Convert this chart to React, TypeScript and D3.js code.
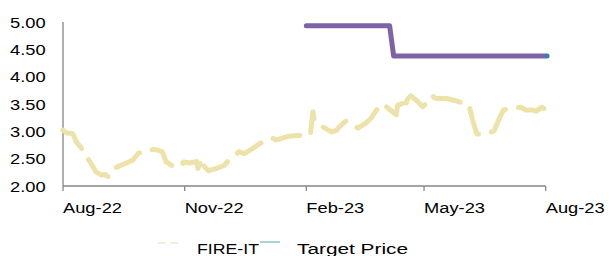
import React from "react";
import * as d3 from "d3";

const fireDates = [
  "2022-08-01","2022-08-04","2022-08-08","2022-08-09","2022-08-11","2022-08-15","2022-08-18","2022-08-22",
  "2022-08-26","2022-08-30","2022-09-02","2022-09-04","2022-09-07","2022-09-11","2022-09-18","2022-09-23",
  "2022-09-27","2022-10-01","2022-10-08","2022-10-11","2022-10-15","2022-10-18","2022-10-22",
  "2022-10-26","2022-10-30","2022-10-31","2022-11-05","2022-11-10","2022-11-11","2022-11-14",
  "2022-11-15","2022-11-19","2022-11-25","2022-12-01","2022-12-05","2022-12-09","2022-12-12",
  "2022-12-16","2022-12-22","2022-12-28","2023-01-02","2023-01-07","2023-01-09","2023-01-17",
  "2023-01-22","2023-01-31","2023-02-04","2023-02-06","2023-02-07","2023-02-10","2023-02-15",
  "2023-02-20","2023-02-24","2023-02-26","2023-03-03","2023-03-08","2023-03-12","2023-03-18",
  "2023-03-22","2023-03-26","2023-03-31","2023-04-05","2023-04-10","2023-04-11","2023-04-15",
  "2023-04-17","2023-04-18","2023-04-21","2023-04-26","2023-04-30","2023-05-04","2023-05-07",
  "2023-05-10","2023-05-18","2023-05-25","2023-05-31","2023-06-04","2023-06-07","2023-06-10",
  "2023-06-14","2023-06-18","2023-06-23","2023-06-27","2023-06-30","2023-07-06","2023-07-13",
  "2023-07-17","2023-07-22","2023-07-25","2023-07-29","2023-08-01",
];
const fireValues = [
  3.02,2.97,2.96,2.93,2.81,2.69,2.57,2.42,
  2.26,2.20,2.21,2.17,2.29,2.35,2.42,2.48,
  2.60,2.63,2.67,2.66,2.63,2.44,2.38,
  2.34,2.38,2.44,2.42,2.45,2.32,2.50,
  2.38,2.28,2.32,2.38,2.49,2.55,2.63,
  2.59,2.68,2.78,2.84,2.87,2.84,2.90,
  2.92,2.93,2.93,3.36,3.21,3.12,3.06,
  2.99,3.02,3.08,3.19,3.12,3.06,3.15,
  3.24,3.39,3.50,3.40,3.30,3.48,3.51,
  3.40,3.57,3.65,3.55,3.45,3.54,3.65,
  3.60,3.60,3.56,3.51,3.48,3.18,2.95,
  2.95,2.96,3.01,3.24,3.39,3.42,3.44,
  3.39,3.39,3.37,3.44,3.40,
];

const targetDates = ["2023-02-01","2023-04-05","2023-04-08","2023-08-02"];
const targetValues = [4.93, 4.93, 4.38, 4.38];

const xTickDates = ["2022-08-01","2022-11-01","2023-02-01","2023-05-01","2023-08-01"];
const xTickLabels = ["Aug-22","Nov-22","Feb-23","May-23","Aug-23"];
const yTicks = [2.0, 2.5, 3.0, 3.5, 4.0, 4.5, 5.0];

const seriesNames = ["FIRE-IT", "Target Price"];

const parse = d3.timeParse("%Y-%m-%d");

export default function App() {
  const W = 609, H = 256;
  const x = d3.scaleTime()
    .domain([parse("2022-08-01")!, parse("2023-08-01")!])
    .range([63, 545.7]);
  const y = d3.scaleLinear().domain([2, 5]).range([186, 22]);

  const fire = fireDates.map((d, i) => ({ x: parse(d)!, y: fireValues[i] }));
  const target = targetDates.map((d, i) => ({ x: parse(d)!, y: targetValues[i] }));
  const line = d3.line<{ x: Date; y: number }>().x(d => x(d.x)).y(d => y(d.y));

  const font = "'Liberation Sans', Arial, sans-serif";
  const sx = 1.22;
  const axisColor = "#868686";
  const lastT = target[target.length - 1];

  return (
    <svg width={W} height={H} style={{ position: "absolute", left: 0, top: 0 }}
      fontFamily={font} fontSize={15} fill="#000">
      <rect width={W} height={H} fill="#fff" />
      {/* axes */}
      <line x1={63} x2={63} y1={y(5)} y2={y(2)} stroke={axisColor} strokeWidth={1.3} />
      <line x1={63} x2={x(parse("2023-08-01")!)} y1={y(2)} y2={y(2)} stroke={axisColor} strokeWidth={1.3} />
      {xTickDates.map((d, i) => {
        const px = x(parse(d)!);
        return (
          <g key={d}>
            <line x1={px} x2={px} y1={y(2)} y2={y(2) + 5} stroke={axisColor} strokeWidth={1.3} />
            <text transform={`translate(${px},212.7) scale(${sx},1)`} textAnchor="start">
              {xTickLabels[i]}
            </text>
          </g>
        );
      })}
      {yTicks.map(t => (
        <text key={t} transform={`translate(45.7,${y(t) + 5.5}) scale(${sx},1)`} textAnchor="end">
          {t.toFixed(2)}
        </text>
      ))}
      {/* series */}
      <path d={line(fire) || ""} fill="none" stroke="#EDE3A8" strokeWidth={5}
        strokeLinecap="round" strokeLinejoin="round" strokeDasharray="28,13" />
      <path d={line(target) || ""} fill="none" stroke="#7E63A7" strokeWidth={5}
        strokeLinecap="round" strokeLinejoin="round" />
      <circle cx={x(lastT.x)} cy={y(lastT.y)} r={2.2} fill="#1E8CB0" />
      {/* legend */}
      <line x1={158} x2={178} y1={243} y2={243} stroke="#F3EFD3" strokeWidth={2} strokeDasharray="8,4" />
      <text x={197} y={253.5} fontSize={15.5} textLength={62} lengthAdjust="spacingAndGlyphs">{seriesNames[0]}</text>
      <line x1={260} x2={280} y1={242} y2={242} stroke="#A9D3DC" strokeWidth={2} />
      <text x={297} y={253.5} fontSize={15.5} textLength={111} lengthAdjust="spacingAndGlyphs">{seriesNames[1]}</text>
    </svg>
  );
}
